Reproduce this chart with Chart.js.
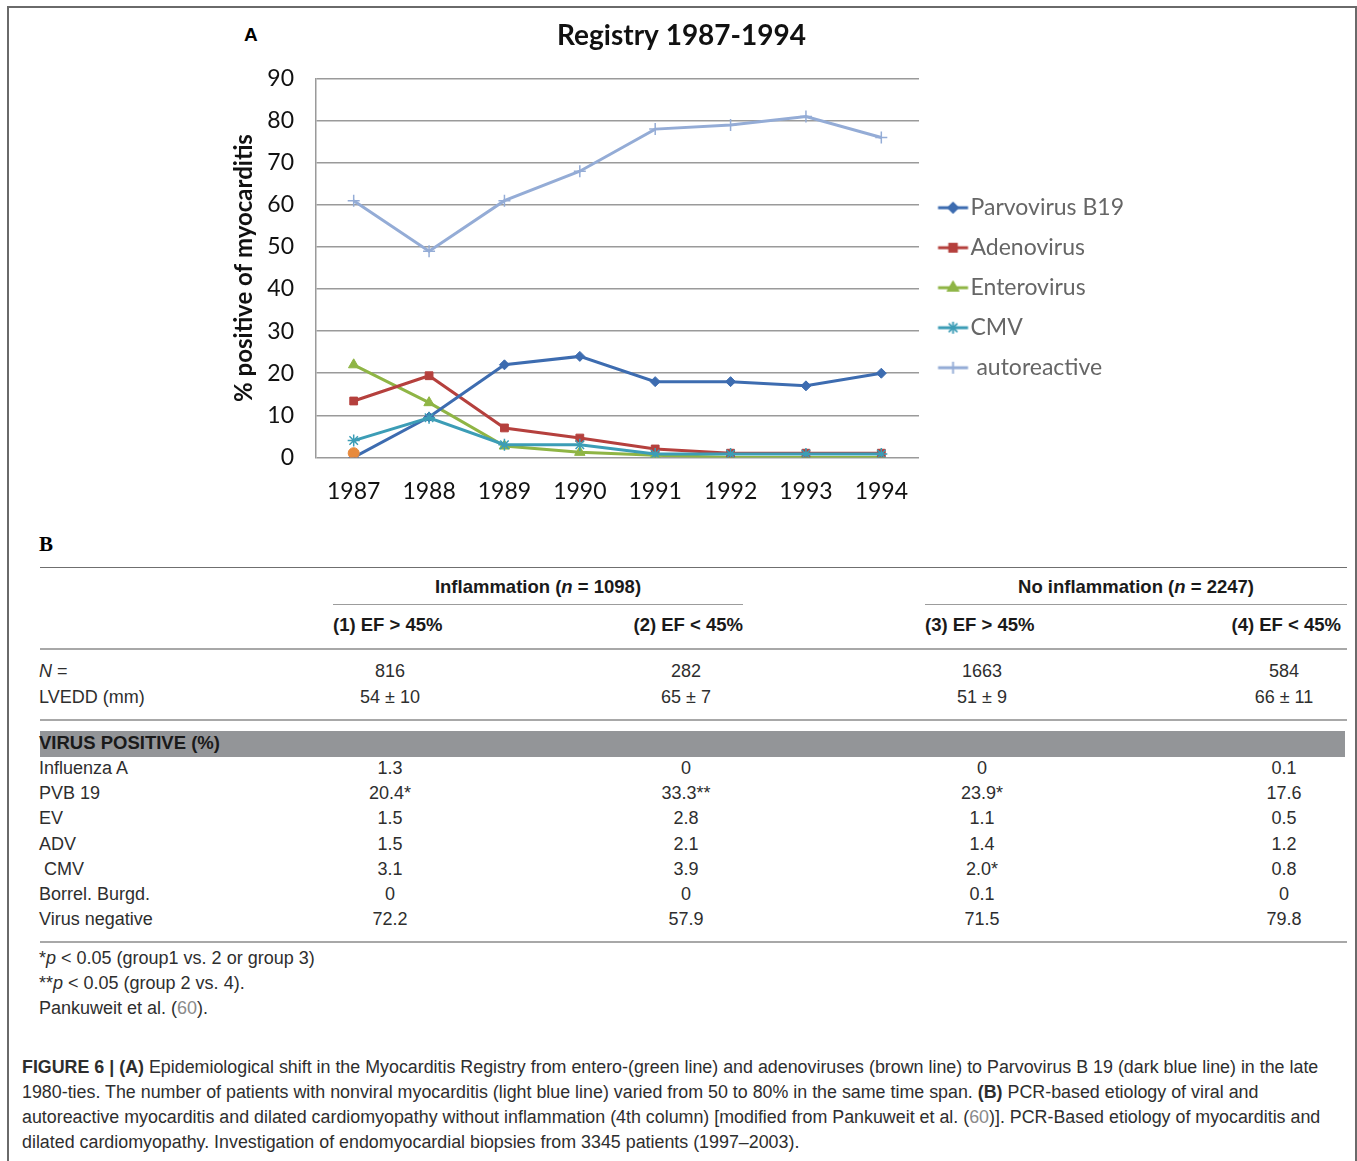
<!DOCTYPE html>
<html>
<head>
<meta charset="utf-8">
<script src="https://cdn.jsdelivr.net/npm/chart.js@4.4.1/dist/chart.umd.min.js"></script>
<style>
  body { margin: 0; width: 1357px; height: 1161px; background: #fff; position: relative; overflow: hidden;
         font-family: "Liberation Sans", Arial, sans-serif; color: #2e2e2e; }
  .frame { position: absolute; left: 7px; top: 6px; width: 1346px; height: 1200px; border: 2px solid #6a6a6a; border-bottom: none; }
  .panel { position: absolute; font-weight: bold; color: #000; }
  #chartBox { position: absolute; left: 229px; top: 10px; width: 905px; height: 515px; }
  .t { position: absolute; font-size: 18px; line-height: 20px; white-space: nowrap; }
  .c { transform: translateX(-50%); }
  .r { transform: translateX(-100%); }
  .b { font-weight: bold; color: #1a1a1a; font-size: 18.5px; }
  .hl { position: absolute; height: 0; }
  .cap { position: absolute; left: 22px; font-size: 17.85px; line-height: 20px; white-space: nowrap; color: #2e2e2e; }
  .ref { color: #8a8a8a; }
</style>
</head>
<body>
<div class="frame"></div>
<div class="panel" style="left:244px; top:24px; font-size:19px; font-family:'Liberation Sans',Arial;">A</div>
<div id="chartBox"><canvas id="chartRegistry" width="905" height="515"></canvas></div>

<div class="panel" style="left:39px; top:532px; font-size:21px; font-family:'Liberation Serif','Times New Roman',serif;">B</div>
<div id="tableB"></div>

<div class="cap" style="top:1057px;"><b>FIGURE 6 | (A)</b> Epidemiological shift in the Myocarditis Registry from entero-(green line) and adenoviruses (brown line) to Parvovirus B 19 (dark blue line) in the late</div>
<div class="cap" style="top:1082px;">1980-ties. The number of patients with nonviral myocarditis (light blue line) varied from 50 to 80% in the same time span. <b>(B)</b> PCR-based etiology of viral and</div>
<div class="cap" style="top:1107px;">autoreactive myocarditis and dilated cardiomyopathy without inflammation (4th column) [modified from Pankuweit et al. (<span class="ref">60</span>)]. PCR-Based etiology of myocarditis and</div>
<div class="cap" style="top:1132px;">dilated cardiomyopathy. Investigation of endomyocardial biopsies from 3345 patients (1997&ndash;2003).</div>

<script>
// panel A data
const years = ['1987', '1988', '1989', '1990', '1991', '1992', '1993', '1994'];
const parvovirusB19 = [0, 9.6, 22, 24, 18, 18, 17, 20];
const adenovirus = [13.4, 19.4, 7, 4.6, 2, 1, 1, 1];
const enterovirus = [22, 13, 2.7, 1.2, 0.5, 0, 0, 0];
const cmv = [4, 9.4, 3, 3, 0.8, 0.8, 0.8, 0.8];
const autoreactive = [61, 49, 61, 68, 78, 79, 81, 76];
const extraPoint = [1, null, null, null, null, null, null, null];

// panel B data
const groupHeads = ['Inflammation (<i>n</i> = 1098)', 'No inflammation (<i>n</i> = 2247)'];
const colHeads = ['(1) EF &gt; 45%', '(2) EF &lt; 45%', '(3) EF &gt; 45%', '(4) EF &lt; 45%'];
const baseRows = ['<i>N</i> =', 'LVEDD (mm)'];
const baseValues = [
  ['816', '282', '1663', '584'],
  ['54 &plusmn; 10', '65 &plusmn; 7', '51 &plusmn; 9', '66 &plusmn; 11']
];
const virusRows = ['Influenza A', 'PVB 19', 'EV', 'ADV', '&nbsp;CMV', 'Borrel. Burgd.', 'Virus negative'];
const virusValues = [
  ['1.3', '0', '0', '0.1'],
  ['20.4*', '33.3**', '23.9*', '17.6'],
  ['1.5', '2.8', '1.1', '0.5'],
  ['1.5', '2.1', '1.4', '1.2'],
  ['3.1', '3.9', '2.0*', '0.8'],
  ['0', '0', '0.1', '0'],
  ['72.2', '57.9', '71.5', '79.8']
];
const footnotes = ['*<i>p</i> &lt; 0.05 (group1 vs. 2 or group 3)', '**<i>p</i> &lt; 0.05 (group 2 vs. 4).', 'Pankuweit et al. (<span class="ref">60</span>).'];

const colors = {
  parvo: '#3d6cb0',
  adeno: '#b5403d',
  entero: '#8fb545',
  cmv: '#3c9db6',
  auto: '#94acd6',
  extra: '#e88a3c'
};

// legend swatch: short line with the marker on it
function legendMarker(color, style, radius) {
  const c = document.createElement('canvas');
  c.width = 44; c.height = 16;
  const ctx = c.getContext('2d');
  ctx.strokeStyle = color;
  ctx.lineWidth = 3;
  ctx.beginPath(); ctx.moveTo(12.5, 8); ctx.lineTo(42.5, 8); ctx.stroke();
  ctx.fillStyle = color;
  ctx.lineWidth = 1.5;
  Chart.helpers.drawPoint(ctx, { pointStyle: style, radius: radius, rotation: 0, borderWidth: 1.5 }, 27.5, 8);
  ctx.fill();
  ctx.stroke();
  return c;
}

function series(label, data, color, style, radius, order) {
  return {
    label: label,
    data: data,
    borderColor: color,
    backgroundColor: color,
    borderWidth: 3,
    pointStyle: style,
    pointRadius: radius,
    pointBorderWidth: style === 'cross' || style === 'star' ? 1.5 : 1,
    tension: 0,
    order: order,
    legendImage: legendMarker(color, style, radius)
  };
}

const chart = document.getElementById('chartRegistry');

new Chart(chart, {
  type: 'line',
  data: {
    labels: years,
    datasets: [
      series('Parvovirus B19', parvovirusB19, colors.parvo, 'rectRot', 5, 2),
      series('Adenovirus', adenovirus, colors.adeno, 'rect', 5.5, 3),
      series('Enterovirus', enterovirus, colors.entero, 'triangle', 6, 4),
      series('CMV', cmv, colors.cmv, 'star', 6, 1),
      series(' autoreactive', autoreactive, colors.auto, 'cross', 6, 5),
      series('', extraPoint, colors.extra, 'circle', 5.5, 0)
    ]
  },
  options: {
    responsive: false,
    animation: false,
    layout: { padding: { left: 0, right: 0, top: 0, bottom: 0 } },
    plugins: {
      title: {
        display: true,
        text: 'Registry 1987-1994',
        color: '#111',
        font: { family: 'Lato', size: 28, weight: 'bold' },
        padding: { top: 9, bottom: 26 }
      },
      legend: {
        position: 'right',
        align: 'center',
        title: { display: true, text: ' ', font: { size: 2 }, padding: { top: 38, bottom: 0 } },
        labels: {
          usePointStyle: true,
          pointStyleWidth: 23,
          padding: 17,
          color: '#111',
          font: { family: 'Lato', size: 23 },
          filter: item => item.text !== '',
          generateLabels: ch => ch.data.datasets.map((ds, i) => ({
            text: ds.label,
            fillStyle: ds.borderColor,
            strokeStyle: ds.borderColor,
            pointStyle: ds.legendImage,
            datasetIndex: i,
            hidden: false
          }))
        }
      },
      tooltip: { enabled: false }
    },
    scales: {
      x: {
        offset: true,
        grid: { display: false, drawTicks: false },
        border: { display: false },
        ticks: { color: '#111', padding: 20, font: { family: 'Lato', size: 23 } }
      },
      y: {
        min: 0,
        max: 90,
        afterFit: scale => { scale.width = 87; },
        ticks: { stepSize: 10, color: '#111', padding: 22, font: { family: 'Lato', size: 23 } },
        grid: { color: '#9a9a9a', lineWidth: 1.5, drawTicks: false },
        border: { display: true, color: '#9a9a9a', width: 1.5 },
        title: {
          display: true,
          text: '% positive of myocarditis',
          color: '#111',
          font: { family: 'Lato', size: 24, weight: 'bold' },
          padding: { top: 1, bottom: 0 }
        }
      }
    }
  }
});

// panel B table
const tb = document.getElementById('tableB');
const colCenters = [390, 686, 982, 1284];
function text(html, x, y, cls) {
  const d = document.createElement('div');
  d.className = 't ' + (cls || '');
  d.style.left = x + 'px';
  d.style.top = (y - 10) + 'px';
  d.innerHTML = html;
  tb.appendChild(d);
}
function hline(x1, x2, y, w, col) {
  const d = document.createElement('div');
  d.className = 'hl';
  d.style.left = x1 + 'px';
  d.style.width = (x2 - x1) + 'px';
  d.style.top = (y - w / 2) + 'px';
  d.style.borderTop = w + 'px solid ' + col;
  tb.appendChild(d);
}

hline(40, 1347, 568, 1.5, '#6f6f6f');
text(groupHeads[0], 538, 587, 'c b');
text(groupHeads[1], 1136, 587, 'c b');
hline(333, 743, 605, 1.5, '#9c9c9c');
hline(925, 1347, 605, 1.5, '#9c9c9c');
text(colHeads[0], 333, 625, 'b');
text(colHeads[1], 743, 625, 'r b');
text(colHeads[2], 925, 625, 'b');
text(colHeads[3], 1341, 625, 'r b');
hline(40, 1347, 649, 2, '#a8a8a8');

baseRows.forEach((lab, i) => {
  const y = 671 + i * 26;
  text(lab, 39, y);
  baseValues[i].forEach((v, j) => text(v, colCenters[j], y, 'c'));
});
hline(40, 1347, 720, 2, '#a8a8a8');

const band = document.createElement('div');
band.style.cssText = 'position:absolute;left:40px;top:731px;width:1305px;height:26px;background:#939598;';
tb.appendChild(band);
text('VIRUS POSITIVE (%)', 39, 743, 'b');

virusRows.forEach((lab, i) => {
  const y = 768 + i * 25.2;
  text(lab, 39, y);
  virusValues[i].forEach((v, j) => text(v, colCenters[j], y, 'c'));
});
hline(40, 1347, 942, 2, '#a8a8a8');

footnotes.forEach((f, i) => text(f, 39, 958 + i * 25));
</script>
</body>
</html>
